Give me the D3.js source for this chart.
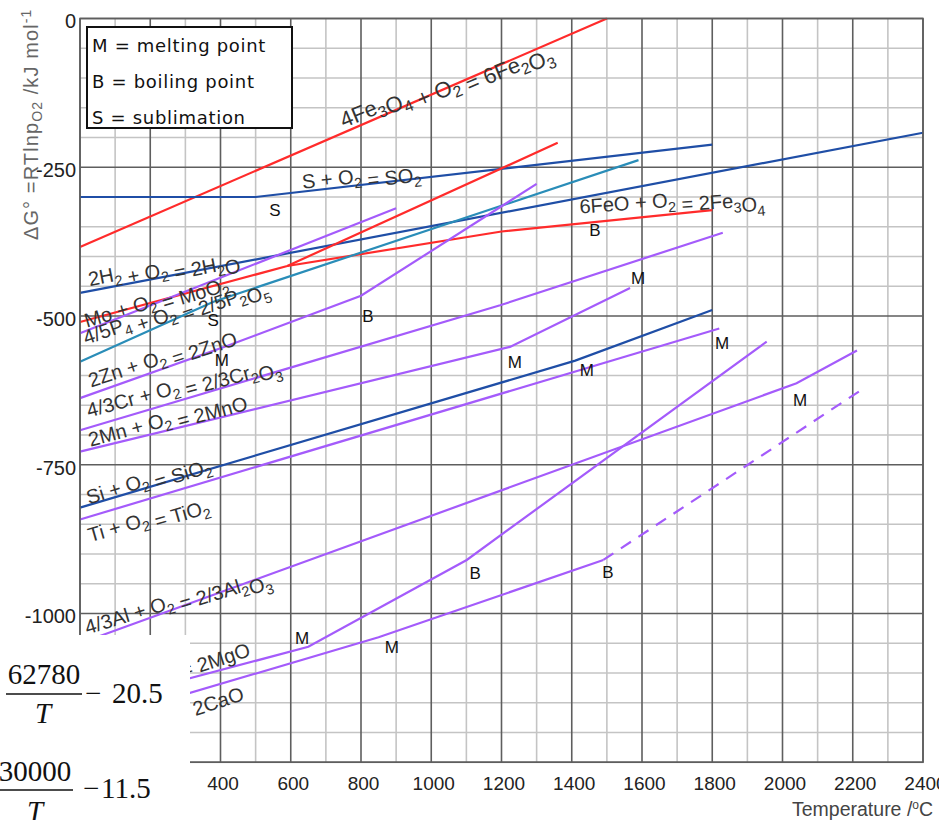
<!DOCTYPE html>
<html><head><meta charset="utf-8">
<script src="https://cdn.jsdelivr.net/npm/d3@7"></script>
<style>body{margin:0;background:#fff}svg{display:block}</style>
</head><body><svg id="c" width="939" height="820"></svg>
<script>
// ---- axis ticks ----
const tempTicks = [0,200,400,600,800,1000,1200,1400,1600,1800,2000,2200,2400];
const tempMinor = d3.range(0, 2401, 100);
const gTicks = [0,-250,-500,-750,-1000,-1250];
const gMinor = d3.range(0, -1251, -50);

// ---- series: [temperature °C, ΔG kJ/mol] ----
const fe2o3 = [[0,-384],[1500,0]];
const so2   = [[0,-300],[500,-300],[1800,-212]];
const h2o   = [[0,-461],[2400,-192]];
const feo   = [[0,-510],[590,-416],[1360,-209]];
const fe3o4 = [[590,-416],[1200,-358],[1800,-322]];
const moo2  = [[0,-529],[900,-319]];
const p2o5  = [[0,-577],[380,-476],[1590,-238]];
const zno   = [[0,-638],[420,-550],[800,-466],[1300,-278]];
const cr2o3 = [[0,-692],[1196,-482],[1830,-360]];
const mno   = [[0,-728],[1224,-552],[1566,-453]];
const sio2  = [[0,-822],[1410,-575],[1800,-490]];
const tio2  = [[0,-842],[1820,-521]];
const al2o3 = [[0,-1050],[2040,-613],[2212,-558]];
const mgo   = [[0,-1158],[650,-1056],[1101,-910],[1955,-543]];
const cao   = [[0,-1188],[850,-1040],[1490,-910]];
const caoDash = [[1490,-910],[2225,-624]];

const seriesList = [
  {pts: fe2o3, c: "red"}, {pts: so2, c: "blue"}, {pts: h2o, c: "blue"},
  {pts: feo, c: "red"}, {pts: fe3o4, c: "red"}, {pts: moo2, c: "purple"},
  {pts: p2o5, c: "teal"}, {pts: zno, c: "purple"}, {pts: cr2o3, c: "purple"},
  {pts: mno, c: "purple"}, {pts: sio2, c: "blue"}, {pts: tio2, c: "purple"},
  {pts: al2o3, c: "purple"}, {pts: mgo, c: "purple"}, {pts: cao, c: "purple"},
  {pts: caoDash, c: "purple", dash: true}
];
const colors = {red: "#ff2b2b", blue: "#1f4ea6", teal: "#2a8db8", purple: "#a45bfb"};

// ---- reaction labels: text, T, ΔG, angle, anchor ----
const reactionText = ["4Fe_3O_4 + O_2 = 6Fe_2O_3","S + O_2 = SO_2","6FeO + O_2 = 2Fe_3O_4","2H_2 + O_2 = 2H_2O",
  "Mo + O_2 = MoO_2","4/5P_4 + O_2 = 2/5P_2O_5","2Zn + O_2 = 2ZnO","4/3Cr + O_2 = 2/3Cr_2O_3",
  "2Mn + O_2 = 2MnO","Si + O_2 = SiO_2","Ti + O_2 = TiO_2","4/3Al + O_2 = 2/3Al_2O_3",
  "2Mg + O_2 = 2MgO","2Ca + O_2 = 2CaO"];
const reactionT = [1034,801,1685,236,216,268,233,293,248,194,194,276,484,466];
const reactionG = [-101,-264,-305,-414,-473,-485,-569,-616,-673,-774,-840,-977,-1063,-1137];
const reactionAngle = [-22.5,-6,-4,-11,-16.5,-19,-18,-15,-15,-17,-16,-17,-18,-18];
const reactionAnchor = ["middle","middle","middle","middle","middle","middle","middle","middle","middle","middle","middle","middle","end","end"];
const reactionSize = [22,20,20,20,20,20,20,20,20,20,20,20,20,20];

// ---- phase-change marks ----
const markText = ["S","S","M","B","B","M","M","M","M","M","M","M","B","B"];
const markT = [555,379,404,820,1466,1589,1238,1443,1828,2050,632,888,1125,1503];
const markG = [-322,-507,-574,-500,-355,-436,-577,-591,-545,-641,-1041,-1056,-932,-930];

const legendItems = ["M = melting point","B = boiling point","S = sublimation"];

const svg = d3.select("#c");
const x = d3.scaleLinear().domain([0,2400]).range([80,923]);
const y = d3.scaleLinear().domain([0,-1250]).range([18.5,762.25]);

// grid
const g = svg.append("g");
g.selectAll(".vmin").data(tempMinor.filter(d => d % 200 !== 0)).join("line")
  .attr("x1", d => x(d)).attr("x2", d => x(d)).attr("y1", y(0)).attr("y2", y(-1250))
  .attr("stroke", "#c4c4c4").attr("stroke-width", 1.6);
g.selectAll(".hmin").data(gMinor.filter(d => d % 250 !== 0)).join("line")
  .attr("y1", d => y(d)).attr("y2", d => y(d)).attr("x1", x(0)).attr("x2", x(2400))
  .attr("stroke", "#c4c4c4").attr("stroke-width", 1.6);
g.selectAll(".vmaj").data(tempTicks).join("line")
  .attr("x1", d => x(d)).attr("x2", d => x(d)).attr("y1", y(0)).attr("y2", y(-1250))
  .attr("stroke", "#5e5e5e").attr("stroke-width", 1.6);
g.selectAll(".hmaj").data(gTicks).join("line")
  .attr("y1", d => y(d)).attr("y2", d => y(d)).attr("x1", x(0)).attr("x2", x(2400))
  .attr("stroke", "#5e5e5e").attr("stroke-width", 1.6);

// axis labels via d3 axes
const xAxis = svg.append("g").attr("transform", `translate(2,${y(-1250)})`)
  .call(d3.axisBottom(x).tickValues(tempTicks).tickSize(0).tickPadding(14).tickFormat(d3.format("d")));
xAxis.select(".domain").remove();
xAxis.selectAll("text").attr("font-family", "Liberation Sans, Arial, sans-serif").attr("font-size", 19).attr("fill", "#222");
const yAxis = svg.append("g").attr("transform", `translate(${x(0)-3},3)`)
  .call(d3.axisLeft(y).tickValues(gTicks).tickSize(0).tickPadding(1).tickFormat(d => d === 0 ? "0" : "-" + Math.abs(d)));
yAxis.select(".domain").remove();
yAxis.selectAll("text").attr("font-family", "Liberation Sans, Arial, sans-serif").attr("font-size", 20).attr("fill", "#222");

// lines
const line = d3.line().x(d => x(d[0])).y(d => y(d[1]));
svg.append("g").selectAll("path").data(seriesList).join("path")
  .attr("d", d => line(d.pts)).attr("fill", "none")
  .attr("stroke", d => colors[d.c]).attr("stroke-width", 2.2)
  .attr("stroke-dasharray", d => d.dash ? "12,9" : null);

// helper for subscripts
function addRich(sel, str, fs) {
  const parts = str.split(/(_.)/);
  parts.forEach(p => {
    if (!p) return;
    if (p[0] === "_") {
      sel.append("tspan").attr("font-size", fs * 0.72).attr("dy", 5).text(p[1]);
      sel.append("tspan").attr("dy", -5).text("");
    } else sel.append("tspan").text(p);
  });
}

// reaction labels
const rl = svg.append("g").attr("font-family", "Liberation Sans, Arial, sans-serif").attr("fill", "#333");
reactionText.forEach((t, i) => {
  const tx = rl.append("text")
    .attr("font-size", reactionSize[i])
    .attr("transform", `translate(${x(reactionT[i])},${y(reactionG[i])}) rotate(${reactionAngle[i]})`)
    .attr("text-anchor", reactionAnchor[i])
    .attr("dy", reactionAnchor[i] === "end" ? 0 : "0.35em");
  addRich(tx, t, reactionSize[i]);
});

// marks
svg.append("g").selectAll("text").data(markText).join("text")
  .attr("x", (d, i) => x(markT[i])).attr("y", (d, i) => y(markG[i])).attr("dy", "0.36em")
  .attr("text-anchor", "middle").attr("font-family", "Liberation Sans, Arial, sans-serif")
  .attr("font-size", 17).attr("fill", "#111").text(d => d);

// plot border
svg.append("rect").attr("x", x(0)).attr("y", y(0)).attr("width", x(2400) - x(0)).attr("height", y(-1250) - y(0))
  .attr("fill", "none").attr("stroke", "#5e5e5e").attr("stroke-width", 1.6);

// legend box
const lg = svg.append("g");
lg.append("rect").attr("x", 87).attr("y", 27).attr("width", 205).attr("height", 101)
  .attr("fill", "#fff").attr("stroke", "#111").attr("stroke-width", 2);
lg.selectAll("text").data(legendItems).join("text")
  .attr("x", 92).attr("y", (d, i) => 52 + i * 36)
  .attr("font-family", "DejaVu Sans, Verdana, sans-serif").attr("font-size", 18)
  .attr("letter-spacing", 0.7).attr("fill", "#111").text(d => d);

// axis titles
const yt = svg.append("text").attr("transform", "translate(38,240) rotate(-90)")
  .attr("font-family", "Liberation Sans, Arial, sans-serif").attr("font-size", 20).attr("letter-spacing", 1.1).attr("fill", "#666");
yt.append("tspan").text("ΔG° =RTlnp");
yt.append("tspan").attr("font-size", 14).attr("dy", 4).text("O2");
yt.append("tspan").attr("dy", -4).text(" /kJ mol");
yt.append("tspan").attr("font-size", 14).attr("dy", -7).text("-1");
const xt = svg.append("text").attr("x", 792).attr("y", 816)
  .attr("font-family", "Liberation Sans, Arial, sans-serif").attr("font-size", 19.5).attr("fill", "#444");
xt.append("tspan").text("Temperature /");
xt.append("tspan").attr("font-size", 12).attr("dy", -7).text("o");
xt.append("tspan").attr("dy", 7).text("C");

// pasted formula panel
svg.append("rect").attr("x", 0).attr("y", 635).attr("width", 190).attr("height", 185).attr("fill", "#fff");
const fm = svg.append("g").attr("font-family", "Liberation Serif, Times New Roman, serif").attr("font-size", 29).attr("fill", "#111");
fm.append("text").attr("x", 44).attr("y", 684).attr("text-anchor", "middle").text("62780");
fm.append("line").attr("x1", 6).attr("x2", 82).attr("y1", 694).attr("y2", 694).attr("stroke", "#111").attr("stroke-width", 1.6);
fm.append("text").attr("x", 43).attr("y", 723).attr("text-anchor", "middle").attr("font-style", "italic").text("T");
fm.append("text").attr("x", 85).attr("y", 703).text("−");
fm.append("text").attr("x", 112).attr("y", 703).text("20.5");
fm.append("text").attr("x", 35).attr("y", 781).attr("text-anchor", "middle").text("30000");
fm.append("line").attr("x1", 0).attr("x2", 73).attr("y1", 790).attr("y2", 790).attr("stroke", "#111").attr("stroke-width", 1.6);
fm.append("text").attr("x", 35).attr("y", 821).attr("text-anchor", "middle").attr("font-style", "italic").text("T");
fm.append("text").attr("x", 83).attr("y", 798).text("−");
fm.append("text").attr("x", 101).attr("y", 798).text("11.5");
</script></body></html>
